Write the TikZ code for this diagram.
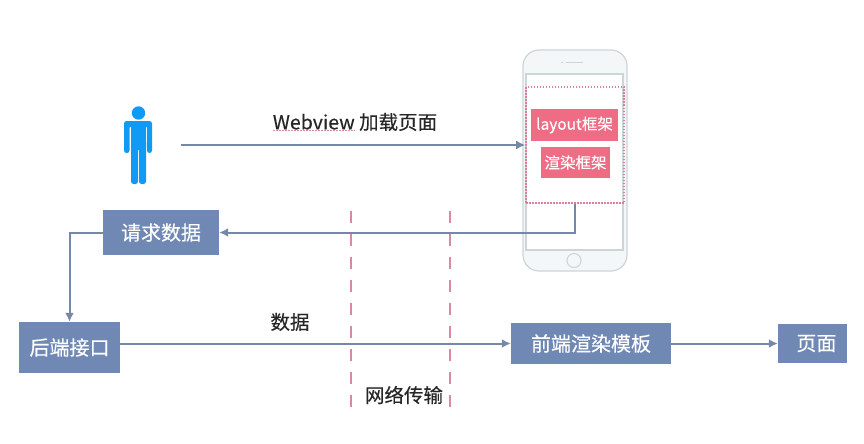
\documentclass[tikz,border=0pt]{standalone}
\usepackage{fontspec}
\setmainfont{Liberation Sans}
\newfontfamily\cjk[FakeBold=0.25]{Noto Sans CJK SC}
\usetikzlibrary{arrows.meta,calc}
\definecolor{boxblue}{HTML}{7088B4}
\definecolor{linec}{HTML}{7688A8}
\definecolor{pinkb}{HTML}{EE6C84}
\definecolor{personb}{HTML}{0F9BF5}
\definecolor{phonel}{HTML}{CDD5D9}
\definecolor{phonef}{HTML}{F3F7F7}
\definecolor{dashr}{HTML}{D98AA3}
\definecolor{dotr}{HTML}{D8809A}
\tikzset{
 x=1pt,y=-1pt,
 bluebox/.style={fill=boxblue,text=white,inner sep=0pt,font=\cjk\fontsize{20}{22}\selectfont},
 pinkbox/.style={fill=pinkb,text=white,inner sep=0pt,font=\cjk\fontsize{15.5}{18}\selectfont},
 conn/.style={draw=linec,line width=2pt,-{Latex[length=9pt,width=9pt]}},
 netline/.style={draw=dashr,line width=1.6pt,dash pattern=on 12pt off 11pt},
 lab/.style={text=black!85,font=\cjk\fontsize{19.5}{22}\selectfont,inner sep=0pt},
}
\begin{document}
\begin{tikzpicture}
\useasboundingbox (0,0) rectangle (864,444);
\fill[white] (0,0) rectangle (864,444);
% phone
\draw[phonel,fill=phonef,line width=1.2pt,rounded corners=16pt] (523,50) rectangle (627,271);
\draw[phonel,fill=white,line width=1.1pt] (526,74) rectangle (623,250);
\draw[phonel,line width=1.1pt,fill=phonef] (574,260.5) circle (7);
\fill[phonel] (562,62.5) circle (1);
\draw[phonel,line width=1.2pt] (566,62.5) -- (583,62.5);
% dotted frame
\node[draw=dotr,dash pattern=on 1.5pt off 1.5pt,line width=1.6pt,minimum width=98pt,minimum height=116pt,inner sep=0pt] (frame) at (575,145) {};
\node[pinkbox,minimum width=87pt,minimum height=32pt] (layoutf) at (574.5,125) {layout框架};
\node[pinkbox,minimum width=69pt,minimum height=31pt] (render) at (575.5,162.5) {渲染框架};
% person
\fill[personb] (138.5,113) circle (6.7);
\fill[personb,rounded corners=2.5pt] (124,121) rectangle (152,127) (124,122) rectangle (129.5,153) (147,122) rectangle (152,153) (131,122) rectangle (146,150);
\fill[personb,rounded corners=2.5pt] (131,140) rectangle (138,184) (139,140) rectangle (146,184);
\coordinate (start) at (181,145);
% boxes
\node[bluebox,minimum width=116pt,minimum height=45pt] (req) at (161,232.5) {请求数据};
\node[bluebox,minimum width=101pt,minimum height=51pt] (api) at (69.5,347.5) {后端接口};
\node[bluebox,minimum width=160pt,minimum height=41pt] (tpl) at (591,343.5) {前端渲染模板};
\node[bluebox,minimum width=69pt,minimum height=39pt] (page) at (812.5,343.5) {\hspace*{8pt}页面};
% connectors
\draw[conn] (start) -- (start -| frame.west);
\draw[conn] (frame.south) -- (frame.south |- req.east) -- (req.east);
\draw[conn] (req.west) -| (api.north);
\draw[conn] (api.east |- tpl.west) -- (tpl.west);
\draw[conn] (tpl.east) -- (page.west);
% network lines
\coordinate (n1a) at (351,211); \coordinate (n1b) at (351,408);
\coordinate (n2a) at (450,211); \coordinate (n2b) at (450,408);
\draw[netline] (n1a) -- (n1b);
\draw[netline] (n2a) -- (n2b);
% labels
\node[lab] (l1) at (355,122) {Webview 加载页面};
\node[lab] (l2) at (290,322) {数据};
\node[lab] (l3) at (404,395) {网络传输};
\draw[dashr,line width=0.8pt,dash pattern=on 1.5pt off 1.5pt] (273,130) -- (355,130);
\end{tikzpicture}
\end{document}
